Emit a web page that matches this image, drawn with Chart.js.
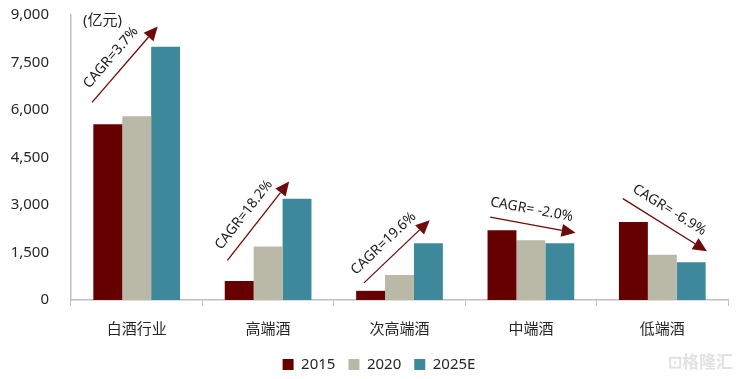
<!DOCTYPE html>
<html>
<head>
<meta charset="utf-8">
<script src="https://cdn.jsdelivr.net/npm/chart.js@4.4.1/dist/chart.umd.min.js"></script>
<style>
  html, body { margin: 0; padding: 0; background: #fff; }
  #wrap { width: 736px; height: 379px; position: relative; }
</style>
</head>
<body>
<div id="wrap"><canvas id="c"></canvas></div>
<script>
// 白酒各档次规模 (亿元)
const categories = ["白酒行业", "高端酒", "次高端酒", "中端酒", "低端酒"];
const seriesNames = ["2015", "2020", "2025E"];
const v2015 = [5550, 600, 290, 2200, 2460];
const v2020 = [5800, 1690, 790, 1890, 1430];
const v2025 = [8000, 3200, 1790, 1790, 1190];
const yTicks = [0, 1500, 3000, 4500, 6000, 7500, 9000];

// CAGR 箭头: x = 类目序号(小数), y = 数值
const cagrLabels = ["CAGR=3.7%", "CAGR=18.2%", "CAGR=19.6%", "CAGR= -2.0%", "CAGR= -6.9%"];
const arrowFrom = [[-0.34, 6240], [0.69, 1250], [1.73, 540], [2.69, 2615], [3.70, 3200]];
const arrowTo = [[0.16, 8640], [1.16, 3740], [2.23, 2520], [3.34, 2120], [4.34, 1540]];

const COLORS = ["#660000", "#bab9a8", "#3e889b"];
const ARROW = "#6e0a0a";
const FONT = "'Noto Sans', 'Noto Sans CJK SC', sans-serif";

// 箭头与 CAGR 文字
const cagrPlugin = {
  id: "cagr",
  // 图例整体略偏右 (原图图例中心约在 379px)
  afterLayout(chart) {
    if (chart.legend) chart.legend.left += 30;
  },
  afterDatasetsDraw(chart) {
    const { ctx, scales } = chart;
    const xs = scales.x, ys = scales.y;
    const step = xs.getPixelForValue(1) - xs.getPixelForValue(0);
    const px = (i) => xs.getPixelForValue(0) + i * step;
    ctx.save();
    cagrLabels.forEach((txt, k) => {
      const x1 = px(arrowFrom[k][0]), y1 = ys.getPixelForValue(arrowFrom[k][1]);
      const x2 = px(arrowTo[k][0]), y2 = ys.getPixelForValue(arrowTo[k][1]);
      const ang = Math.atan2(y2 - y1, x2 - x1);
      const head = 14, half = 6.5;
      const bx = x2 - head * Math.cos(ang), by = y2 - head * Math.sin(ang);
      ctx.strokeStyle = ARROW;
      ctx.lineWidth = 1.3;
      ctx.beginPath();
      ctx.moveTo(x1, y1);
      ctx.lineTo(bx, by);
      ctx.stroke();
      ctx.fillStyle = ARROW;
      ctx.beginPath();
      ctx.moveTo(x2, y2);
      ctx.lineTo(bx + half * Math.sin(ang), by - half * Math.cos(ang));
      ctx.lineTo(bx - half * Math.sin(ang), by + half * Math.cos(ang));
      ctx.closePath();
      ctx.fill();
      // 文字: 线段中点, 向上偏移
      const mx = (x1 + x2) / 2, my = (y1 + y2) / 2;
      const ux = Math.cos(ang), uy = Math.sin(ang);
      const nx = uy, ny = -ux; // 法向 (向上)
      const tx = mx + nx * 15 - ux * 4, ty = my + ny * 15 - uy * 4;
      ctx.translate(tx, ty);
      ctx.rotate(ang);
      ctx.fillStyle = "#1a1a1a";
      ctx.font = "14px " + FONT;
      ctx.textAlign = "center";
      ctx.textBaseline = "middle";
      ctx.fillText(txt, 0, 0);
      ctx.setTransform(1, 0, 0, 1, 0, 0);
    });
    // 单位
    ctx.fillStyle = "#262626";
    ctx.font = "15px " + FONT;
    ctx.textAlign = "left";
    ctx.textBaseline = "middle";
    ctx.fillText("(亿元)", chart.chartArea.left + 12, chart.chartArea.top + 6);
    // 水印
    ctx.fillStyle = "#e2e2e2";
    ctx.font = "bold 17px 'Noto Sans CJK SC', sans-serif";
    ctx.textAlign = "right";
    ctx.fillText("⊡格隆汇", 733, 362);
    ctx.restore();
  },
};

new Chart(document.getElementById("c"), {
  type: "bar",
  data: {
    labels: categories,
    datasets: [v2015, v2020, v2025].map((d, i) => ({
      label: seriesNames[i],
      data: d,
      backgroundColor: COLORS[i],
      borderWidth: 0,
      barPercentage: 1,
      categoryPercentage: 0.66,
    })),
  },
  options: {
    responsive: true,
    maintainAspectRatio: false,
    animation: false,
    devicePixelRatio: 1,
    layout: { padding: { left: 0, right: 8, top: 15, bottom: 3 } },
    scales: {
      x: {
        afterFit(scale) { scale.height = 44; },
        grid: { display: true, offset: true, drawOnChartArea: false, tickLength: 6, color: "#bfbfbf" },
        border: { color: "#bfbfbf", width: 1.5 },
        ticks: { color: "#262626", font: { size: 15, family: FONT }, padding: 15 },
      },
      y: {
        min: 0,
        max: 9000,
        afterBuildTicks(scale) { scale.ticks = yTicks.map((v) => ({ value: v })); },
        afterFit(scale) { scale.width = 71; },
        grid: { display: false, drawTicks: true, tickLength: 20 },
        border: { color: "#bfbfbf", width: 1.5 },
        ticks: {
          color: "#262626",
          font: { size: 15, family: FONT },
          padding: 2,
          callback: (v) => v.toLocaleString("en-US"),
        },
      },
    },
    plugins: {
      legend: {
        position: "bottom",
        maxHeight: 32,
        labels: {
          boxWidth: 11,
          boxHeight: 11,
          padding: 13,
          color: "#262626",
          font: { size: 15, family: FONT },
        },
      },
      tooltip: { enabled: false },
    },
  },
  plugins: [cagrPlugin],
});
</script>
</body>
</html>
